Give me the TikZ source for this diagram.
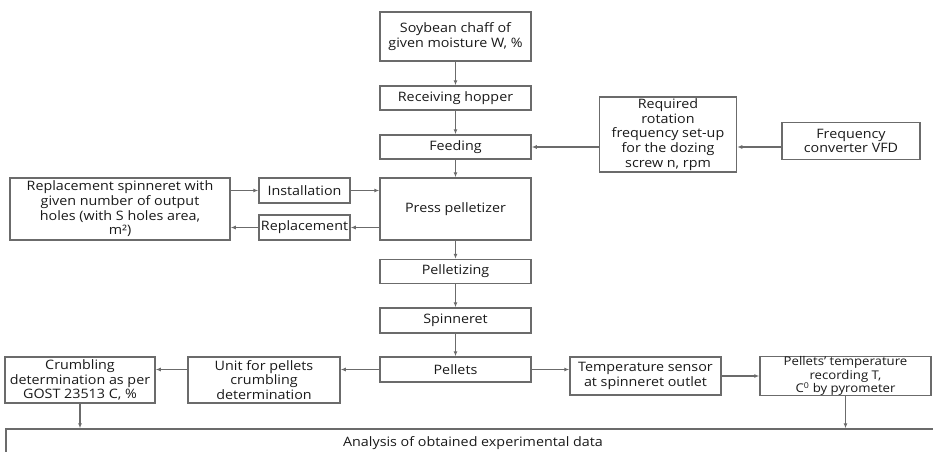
\documentclass[tikz,border=0pt]{standalone}
\usepackage{fontspec}
\setmainfont{Open Sans}[FakeStretch=1.1]
\usetikzlibrary{positioning, shapes, arrows.meta}

\begin{document}
\begin{tikzpicture}[-{Latex[length=5pt,width=4pt]}, x=1pt, y=-1pt,
      inner sep=0pt, line width=1.5pt, draw=black!58,
      box/.style={rectangle, draw=black!58, align=center, text=black!90,
        font=\fontsize{13}{14.7}\selectfont},
      small/.style={box, font=\fontsize{12}{13.3}\selectfont}]
      \clip (0,0) rectangle (933,451);
      % main line
      \node[box, minimum width=151, minimum height=49](soy) at(455.5,36.5) {Soybean chaff of\\given moisture W, \%};
      \node[box, minimum width=151, minimum height=24](hopper) at(455.5,98) {Receiving hopper};
      \node[box, minimum width=151, minimum height=24](feed) at(455.5,147) {Feeding};
      \node[box, minimum width=151, minimum height=62](press) at(455.5,209) {Press pelletizer};
      \node[box, minimum width=151, minimum height=24](pelz) at(455.5,271.5) {Pelletizing};
      \node[box, minimum width=151, minimum height=25](spin) at(455.5,320.5) {Spinneret};
      \node[box, minimum width=151, minimum height=25](pellets) at(455.5,369.5) {Pellets};
      \path (soy) edge (hopper);
      \path (hopper) edge (feed);
      \path (feed) edge (press);
      \path (press) edge (pelz);
      \path (pelz) edge (spin);
      \path (spin) edge (pellets);
      % screw speed
      \node[box, minimum width=137, minimum height=75](rot) at(668,134.5) {Required\\rotation\\frequency set-up\\for the dozing\\screw n, rpm};
      \node[box, minimum width=138, minimum height=37](freq) at(851,141) {Frequency\\converter VFD};
      \path (freq.west |- feed) edge (rot.east |- feed);
      \path (rot.west |- feed) edge (feed);
      % spinneret change
      \node[box, minimum width=220, minimum height=62](repl) at(120,209) {Replacement spinneret with\\given number of output\\holes (with S holes area,\\m²)};
      \node[box, minimum width=91, minimum height=25](inst) at(304.5,190.5) {Installation};
      \node[box, minimum width=91, minimum height=25](rplc) at(304.5,227.5) {Replacement};
      \path (repl.east |- inst) edge (inst);
      \path (inst) edge (press.west |- inst);
      \path (press.west |- rplc) edge (rplc);
      \path (rplc) edge (repl.east |- rplc);
      % pellets, crumbling, temperature
      \node[box, minimum width=150, minimum height=46](crumb) at(80,380) {Crumbling\\determination as per\\GOST 23513 C, \%};
      \node[box, minimum width=152, minimum height=46](unit) at(264,380) {Unit for pellets\\crumbling\\determination};
      \node[box, minimum width=151, minimum height=38](temp) at(645.5,376) {Temperature sensor\\at spinneret outlet};
      \node[small, minimum width=171, minimum height=38](ptemp) at(845.5,376) {Pellets' temperature\\recording T,\\C\textsuperscript{0} by pyrometer};
      \path (pellets) edge (unit.east |- pellets);
      \path (unit.west |- pellets) edge (crumb.east |- pellets);
      \path (pellets) edge (temp.west |- pellets);
      \path (temp) edge (ptemp.west |- temp);
      % analysis
      \node[box, minimum width=934, minimum height=28](anal) at(473,443) {Analysis of obtained experimental data};
      \path (crumb) edge (crumb |- anal.north);
      \path (ptemp) edge (ptemp |- anal.north);
\end{tikzpicture}
\end{document}
